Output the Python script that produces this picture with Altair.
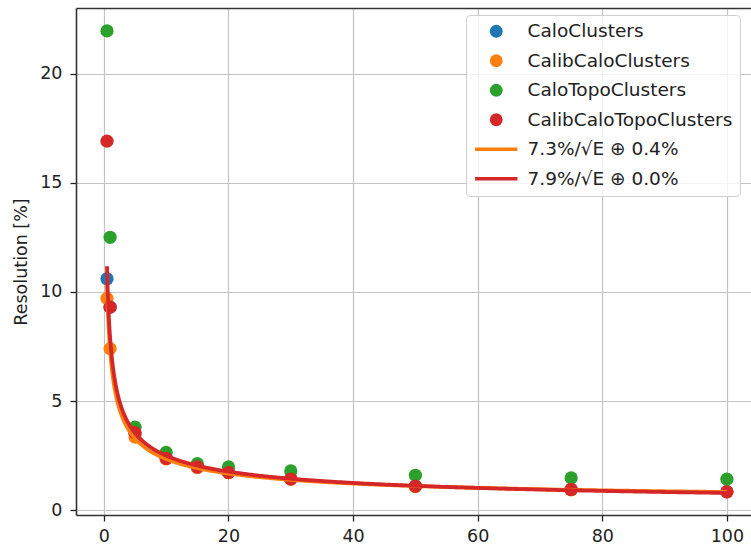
import altair as alt
import pandas as pd

# ---------------- data ----------------
energy = [0.5, 1, 5, 10, 15, 20, 30, 50, 75, 100]
series_names = ["CaloClusters", "CalibCaloClusters", "CaloTopoClusters", "CalibCaloTopoClusters"]
calo = [10.6, 9.3, 3.5, 2.4, 2.0, 1.75, 1.45, 1.1, 0.95, 0.85]
calib_calo = [9.7, 7.4, 3.35, 2.35, 1.95, 1.72, 1.42, 1.08, 0.93, 0.84]
calo_topo = [21.95, 12.5, 3.8, 2.65, 2.13, 1.98, 1.8, 1.6, 1.48, 1.42]
calib_calo_topo = [16.9, 9.3, 3.55, 2.37, 1.98, 1.72, 1.42, 1.1, 0.95, 0.84]

fit_labels = ["7.3%/√E ⊕ 0.4%", "7.9%/√E ⊕ 0.0%"]
fit_stochastic = [7.3, 7.9]
fit_constant = [0.4, 0.0]
fit_range = [0.5, 100]

colors = ["#1f77b4", "#ff7f0e", "#2ca02c", "#d62728", "#ff7f0e", "#d62728"]
x_ticks = [0, 20, 40, 60, 80, 100]
y_ticks = [0, 5, 10, 15, 20]

# ---------------- tables ----------------
rows = []
for k, (name, vals) in enumerate(zip(series_names, [calo, calib_calo, calo_topo, calib_calo_topo])):
    for e, v in zip(energy, vals):
        rows.append({"series": name, "E": e, "res": v, "idx": k})
points_df = pd.DataFrame(rows)

all_labels = series_names + fit_labels
line_path = "M-3.3,-0.27H3.3V0.27H-3.3Z"
shapes = ["circle"] * 4 + [line_path] * 2

W, H = 675, 507
x_scale = alt.Scale(domain=[-4.475, 103.87], nice=False, zero=False)
y_scale = alt.Scale(domain=[-0.22, 23.0], nice=False, zero=False)
color_scale = alt.Scale(domain=all_labels, range=colors)
shape_scale = alt.Scale(domain=all_labels, range=shapes)

y_axis = alt.Axis(values=y_ticks, title="Resolution [%]")

points = alt.Chart(points_df).mark_point(
    filled=True, size=175, opacity=1, strokeWidth=0
).encode(
    x=alt.X("E:Q", scale=x_scale,
            axis=alt.Axis(values=x_ticks, title=None, orient="bottom")),
    y=alt.Y("res:Q", scale=y_scale, axis=y_axis),
    color=alt.Color("series:N", scale=color_scale,
                    legend=alt.Legend(
                        orient="none", legendX=390, legendY=7, title=None,
                        fillColor="rgba(255,255,255,0.8)", strokeColor="#d0d0d0",
                        cornerRadius=4, padding=7, labelFontSize=18.5,
                        labelColor="#222", labelFont="DejaVu Sans",
                        symbolSize=165, symbolStrokeWidth=0, symbolOffset=14,
                        labelOffset=22, rowPadding=10.5, labelLimit=400)),
    shape=alt.Shape("series:N", scale=shape_scale, legend=None),
    order=alt.Order("idx:Q"),
)


def fit_layer(i, top_axis=False):
    a, b = fit_stochastic[i], fit_constant[i]
    xax = alt.Axis(orient="top", labels=False, ticks=False, grid=False, title=None,
                   domain=True) if top_axis else None
    return alt.Chart(alt.sequence(0, 1.0001, 0.0025, as_="t")).transform_calculate(
        E=f"{fit_range[0]} + ({fit_range[1]} - {fit_range[0]}) * datum.t * datum.t"
    ).transform_calculate(
        res=f"sqrt(pow({a} / sqrt(datum.E), 2) + pow({b}, 2))",
        series=f"'{fit_labels[i]}'",
    ).mark_line(strokeWidth=3.8).encode(
        x=alt.X("E:Q", scale=x_scale, axis=xax),
        y=alt.Y("res:Q", scale=y_scale, axis=y_axis),
        color=alt.Color("series:N", scale=color_scale, legend=None),
    )


chart = alt.layer(points, fit_layer(0), fit_layer(1, top_axis=True)).resolve_axis(
    x="independent"
).properties(
    width=W, height=H,
    padding={"left": 76, "top": 8, "right": 0, "bottom": 30},
    autosize="none",
).configure_view(stroke=None).configure_axis(
    labelFontSize=17.5, labelFont="DejaVu Sans", labelColor="#222",
    titleFontSize=17.5, titleFont="DejaVu Sans", titleFontWeight="normal", titleColor="#222",
    tickColor="#222", tickSize=6, tickWidth=1.3,
    domainColor="#333", domainWidth=1.6,
    gridColor="#c4c4c4", gridWidth=1.2,
).configure_axisY(titlePadding=9, labelPadding=8).configure_axisX(labelPadding=6)

chart.save("out.html", embed_options={"renderer": "svg", "actions": False})
